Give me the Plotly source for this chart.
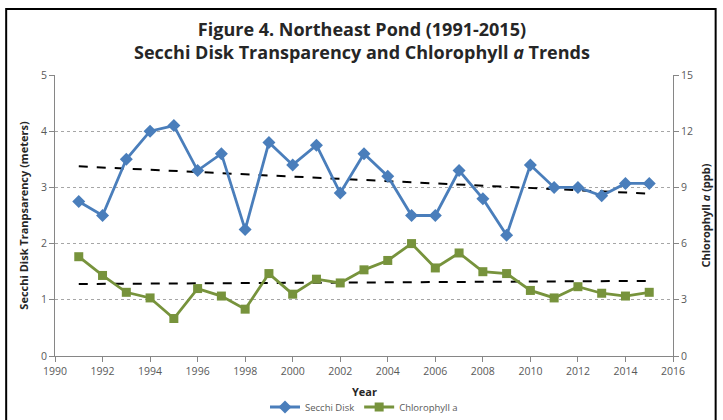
import numpy as np
import plotly.graph_objects as go

years = list(range(1991, 2016))
secchi = [2.75, 2.5, 3.5, 4.0, 4.1, 3.3, 3.6, 2.25, 3.8, 3.4, 3.75, 2.9, 3.6,
          3.2, 2.5, 2.5, 3.3, 2.8, 2.15, 3.4, 3.0, 3.0, 2.85, 3.07, 3.07]
chlorophyll = [5.3, 4.3, 3.4, 3.1, 2.0, 3.6, 3.2, 2.5, 4.4, 3.3, 4.1, 3.9, 4.6,
               5.1, 6.0, 4.7, 5.5, 4.5, 4.4, 3.5, 3.1, 3.7, 3.35, 3.2, 3.4]

x_ticks = list(range(1990, 2017, 2))
left_ticks = [0, 1, 2, 3, 4, 5]
right_ticks = [0, 3, 6, 9, 12, 15]

BLUE = '#4a7ebb'
GREEN = '#77933c'
GRAY = '#595959'
FONT = 'Open Sans'


def trend(xs, ys):
    """Linear trend line, same as the Excel one"""
    slope, intercept = np.polyfit(xs, ys, 1)
    return [slope * x + intercept for x in xs]


fig = go.Figure()

# Trend lines (not in legend)
fig.add_trace(go.Scatter(
    x=years, y=trend(years, secchi), mode='lines', showlegend=False,
    line=dict(color='black', width=2, dash='dash'), hoverinfo='skip'
))
fig.add_trace(go.Scatter(
    x=years, y=trend(years, chlorophyll), mode='lines', showlegend=False,
    yaxis='y2', line=dict(color='black', width=2, dash='dash'), hoverinfo='skip'
))

fig.add_trace(go.Scatter(
    x=years, y=secchi, name='Secchi Disk', mode='lines+markers',
    line=dict(color=BLUE, width=2.8),
    marker=dict(symbol='diamond', size=10, color=BLUE)
))
fig.add_trace(go.Scatter(
    x=years, y=chlorophyll, name='Chlorophyll a', mode='lines+markers',
    yaxis='y2', line=dict(color=GREEN, width=2.8),
    marker=dict(symbol='square', size=9, color=GREEN)
))

fig.update_layout(
    width=723, height=420,
    margin=dict(l=55, r=50, t=75, b=64, autoexpand=False),
    paper_bgcolor='white', plot_bgcolor='white',
    font=dict(family=FONT, color=GRAY, size=10),
    showlegend=True,
    legend=dict(orientation='h', x=0.5, xanchor='center',
                yref='container', y=0.031, yanchor='middle',
                font=dict(size=9.5, color=GRAY), itemwidth=30,
                bgcolor='rgba(0,0,0,0)'),
    xaxis=dict(
        range=[1990, 2016], tickvals=x_ticks, showgrid=False, zeroline=False,
        showline=True, linecolor='#868686', linewidth=1, automargin=False,
        ticks='outside', ticklen=5, tickcolor='#868686',
        tickfont=dict(size=10.5, color=GRAY)
    ),
    yaxis=dict(
        range=[0, 5], tickvals=left_ticks, showgrid=True, gridcolor='#a6a6a6',
        griddash='dot', gridwidth=1, zeroline=False, automargin=False,
        showline=True, linecolor='#868686', linewidth=1,
        ticks='outside', ticklen=5, tickcolor='#868686',
        tickfont=dict(size=10.5, color=GRAY),
        title=dict(text='<b>Secchi Disk Tranpsarency (meters)</b>',
                   font=dict(size=11, color='#262626'), standoff=10)
    ),
    yaxis2=dict(
        range=[0, 15], tickvals=right_ticks, overlaying='y', side='right',
        showgrid=False, zeroline=False, automargin=False,
        showline=True, linecolor='#868686', linewidth=1,
        ticks='outside', ticklen=5, tickcolor='#868686',
        tickfont=dict(size=10.5, color=GRAY),
        title=dict(text='<b>Chlorophyll <i>a</i> (ppb)</b>',
                   font=dict(size=11, color='#262626'), standoff=10)
    ),
    annotations=[
        dict(text='<b>Figure 4. Northeast Pond (1991-2015)<br>'
                  'Secchi Disk Transparency and Chlorophyll <i>a</i> Trends</b>',
             xref='paper', yref='paper', x=0.497, y=1.2135, xanchor='center',
             yanchor='top', showarrow=False, align='center',
             font=dict(family=FONT, size=18, color='#262626')),
        dict(text='<b>Year</b>', xref='paper', yref='paper', x=0.5, y=-0.128,
             xanchor='center', yanchor='middle', showarrow=False,
             font=dict(size=11, color='#262626')),
    ],
    shapes=[
        dict(type='rect', xref='paper', yref='paper',
             x0=-0.079, x1=1.069, y0=-0.3, y1=1.235,
             line=dict(color='black', width=2), layer='below')
    ]
)

# page body has a default 8px margin; drop it so the figure fills the window
fig.write_html("out.html", config={'displayModeBar': False},
               post_script="document.body.style.margin = '0';")
